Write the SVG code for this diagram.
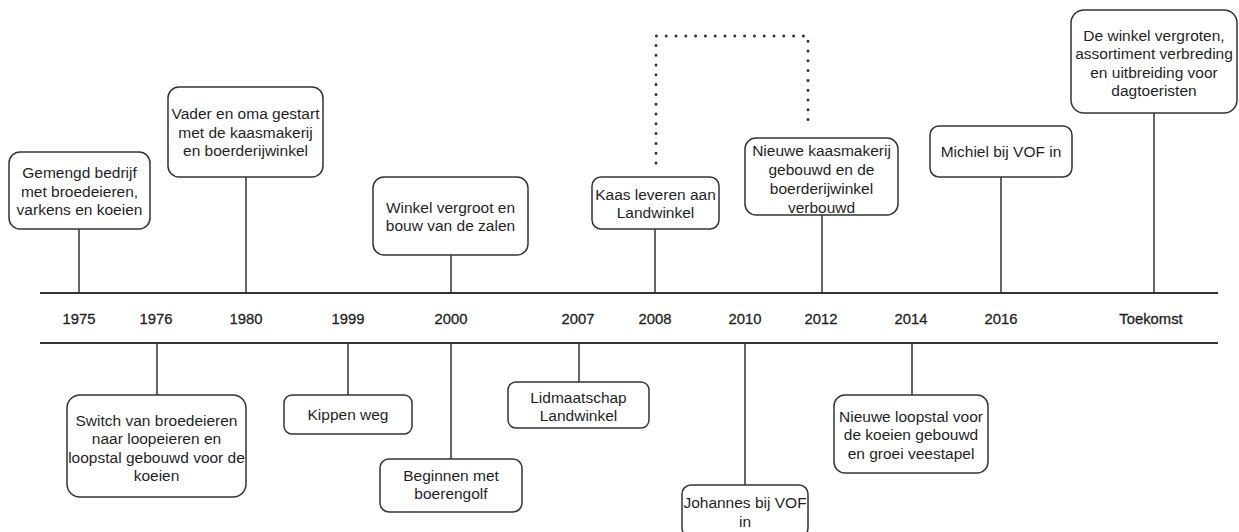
<svg xmlns="http://www.w3.org/2000/svg" width="1239" height="532" viewBox="0 0 1239 532">
  <style>
    .box { fill: #ffffff; stroke: #333333; stroke-width: 1.5; }
    .lbl { font-family: "Liberation Sans", Arial, sans-serif; font-size: 15.5px; fill: #1f1f1f; text-anchor: middle; }
    .yr { font-family: "Liberation Sans", Arial, sans-serif; font-size: 14.8px; fill: #1f1f1f; text-anchor: middle; stroke: #1f1f1f; stroke-width: 0.3; }
    .axis { stroke: #333333; stroke-width: 2; fill: none; }
    .stem { stroke: #333333; stroke-width: 1.5; fill: none; }
    .dots { stroke: #333333; stroke-width: 3; stroke-dasharray: 0 9.8; stroke-linecap: round; fill: none; }
  </style>
  <rect width="1239" height="532" fill="#ffffff"/>

  <!-- timeline axes, stems and the dotted link -->
  <g id="connectors">
    <line class="axis" x1="40" y1="293" x2="1218" y2="293"/>
    <line class="axis" x1="40" y1="343" x2="1218" y2="343"/>
    <line class="stem" x1="79" y1="229" x2="79" y2="293"/>
    <line class="stem" x1="246" y1="177" x2="246" y2="293"/>
    <line class="stem" x1="451" y1="255" x2="451" y2="293"/>
    <line class="stem" x1="655" y1="229" x2="655" y2="293"/>
    <line class="stem" x1="822" y1="215" x2="822" y2="293"/>
    <line class="stem" x1="1001" y1="177" x2="1001" y2="293"/>
    <line class="stem" x1="1154" y1="113" x2="1154" y2="293"/>
    <line class="stem" x1="157" y1="343" x2="157" y2="395"/>
    <line class="stem" x1="348" y1="343" x2="348" y2="395"/>
    <line class="stem" x1="451" y1="343" x2="451" y2="459"/>
    <line class="stem" x1="579" y1="343" x2="579" y2="382"/>
    <line class="stem" x1="745" y1="343" x2="745" y2="485"/>
    <line class="stem" x1="912" y1="343" x2="912" y2="395"/>
    <path class="dots" d="M656 163 V36 H808 V125"/>
  </g>

  <!-- year labels -->
  <g id="years">
    <text class="yr" x="79" y="324">1975</text>
    <text class="yr" x="156" y="324">1976</text>
    <text class="yr" x="246" y="324">1980</text>
    <text class="yr" x="348" y="324">1999</text>
    <text class="yr" x="451" y="324">2000</text>
    <text class="yr" x="578" y="324">2007</text>
    <text class="yr" x="655" y="324">2008</text>
    <text class="yr" x="745" y="324">2010</text>
    <text class="yr" x="821" y="324">2012</text>
    <text class="yr" x="911" y="324">2014</text>
    <text class="yr" x="1001" y="324">2016</text>
    <text class="yr" x="1151" y="324">Toekomst</text>
  </g>

  <!-- events above the timeline -->
  <g id="e1975">
    <rect class="box" x="9" y="152" width="141" height="77" rx="11"/>
    <text class="lbl" x="79.5" y="178">Gemengd bedrijf</text>
    <text class="lbl" x="79.5" y="196.5">met broedeieren,</text>
    <text class="lbl" x="79.5" y="215">varkens en koeien</text>
  </g>
  <g id="e1980">
    <rect class="box" x="168" y="87" width="155" height="90" rx="11"/>
    <text class="lbl" x="245.5" y="119">Vader en oma gestart</text>
    <text class="lbl" x="245.5" y="137.5">met de kaasmakerij</text>
    <text class="lbl" x="245.5" y="156">en boerderijwinkel</text>
  </g>
  <g id="e2000">
    <rect class="box" x="373" y="177" width="155" height="78" rx="11"/>
    <text class="lbl" x="450.5" y="212.5">Winkel vergroot en</text>
    <text class="lbl" x="450.5" y="231">bouw van de zalen</text>
  </g>
  <g id="e2008">
    <rect class="box" x="592" y="177" width="127" height="52" rx="9"/>
    <text class="lbl" x="655.5" y="199.5">Kaas leveren aan</text>
    <text class="lbl" x="655.5" y="218">Landwinkel</text>
  </g>
  <g id="e2012">
    <rect class="box" x="745" y="138" width="153" height="77" rx="11"/>
    <text class="lbl" x="821.5" y="155.5">Nieuwe kaasmakerij</text>
    <text class="lbl" x="821.5" y="174.5">gebouwd en de</text>
    <text class="lbl" x="821.5" y="193.5">boerderijwinkel</text>
    <text class="lbl" x="821.5" y="212.5">verbouwd</text>
  </g>
  <g id="e2016">
    <rect class="box" x="930" y="126" width="142" height="51" rx="9"/>
    <text class="lbl" x="1001" y="157">Michiel bij VOF in</text>
  </g>
  <g id="eToekomst">
    <rect class="box" x="1071" y="10" width="166" height="103" rx="13"/>
    <text class="lbl" x="1154" y="40.5">De winkel vergroten,</text>
    <text class="lbl" x="1154" y="59">assortiment verbreding</text>
    <text class="lbl" x="1154" y="77.5">en uitbreiding voor</text>
    <text class="lbl" x="1154" y="96">dagtoeristen</text>
  </g>

  <!-- events below the timeline -->
  <g id="e1976">
    <rect class="box" x="67" y="395" width="179" height="102" rx="13"/>
    <text class="lbl" x="156.5" y="425.5">Switch van broedeieren</text>
    <text class="lbl" x="156.5" y="444">naar loopeieren en</text>
    <text class="lbl" x="156.5" y="462.5">loopstal gebouwd voor de</text>
    <text class="lbl" x="156.5" y="481">koeien</text>
  </g>
  <g id="e1999">
    <rect class="box" x="284" y="395" width="128" height="39" rx="8"/>
    <text class="lbl" x="348" y="420">Kippen weg</text>
  </g>
  <g id="e2000b">
    <rect class="box" x="380" y="459" width="142" height="53" rx="9"/>
    <text class="lbl" x="451" y="480.5">Beginnen met</text>
    <text class="lbl" x="451" y="499">boerengolf</text>
  </g>
  <g id="e2007">
    <rect class="box" x="508" y="382" width="141" height="46" rx="8"/>
    <text class="lbl" x="578.5" y="402.5">Lidmaatschap</text>
    <text class="lbl" x="578.5" y="421">Landwinkel</text>
  </g>
  <g id="e2010">
    <rect class="box" x="682" y="485" width="126" height="52" rx="9"/>
    <text class="lbl" x="745" y="507.5">Johannes bij VOF</text>
    <text class="lbl" x="745" y="527">in</text>
  </g>
  <g id="e2014">
    <rect class="box" x="834" y="395" width="154" height="78" rx="11"/>
    <text class="lbl" x="911" y="421.5">Nieuwe loopstal voor</text>
    <text class="lbl" x="911" y="440">de koeien gebouwd</text>
    <text class="lbl" x="911" y="458.5">en groei veestapel</text>
  </g>
</svg>
